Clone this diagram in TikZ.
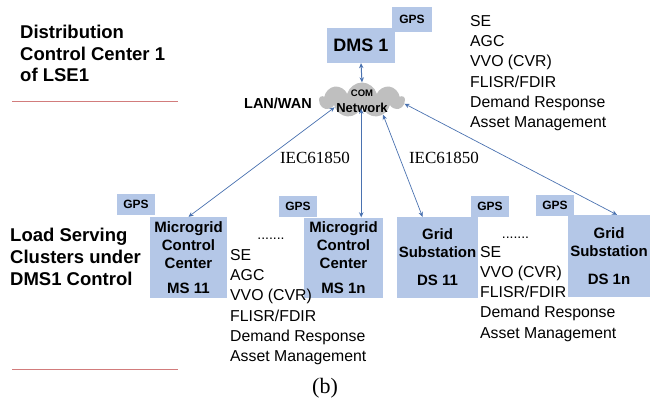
\documentclass[tikz,border=0pt]{standalone}
\usepackage{fontspec}
\setmainfont{Liberation Sans}
\newfontfamily\serifnum{Liberation Serif}
\usetikzlibrary{arrows.meta, shapes.symbols}
\definecolor{boxblue}{HTML}{B4C7E7}
\definecolor{cloudgray}{HTML}{BFBFBF}
\definecolor{linkblue}{HTML}{4A72B0}
\definecolor{rulered}{HTML}{D27C7C}
\newcommand{\fs}[2]{\fontsize{#1}{#2}\selectfont}

\begin{document}
\begin{tikzpicture}[x=1pt, y=-1pt,
    box/.style={fill=boxblue, inner sep=0, align=center, font=\bfseries\fs{15}{18}},
    gpsbox/.style={fill=boxblue, inner sep=0, minimum width=38pt, minimum height=21pt, font=\bfseries\fs{12}{14}},
    heading/.style={anchor=north west, inner sep=0, align=left, font=\bfseries\fs{18.5}{21.5}},
    funclist/.style={anchor=north west, inner sep=0, align=left, font=\fs{15.8}{20.3}},
    link/.style={draw=linkblue, line width=0.7pt, {Stealth[length=5pt,width=4.5pt]}-{Stealth[length=5pt,width=4.5pt]}}]
  \useasboundingbox (0,0) rectangle (651,402);

  % Headings and red separators
  \node[heading] (dcc) at (20,25) {Distribution\\Control Center 1\\of LSE1};
  \node[heading, font=\bfseries\fs{18.5}{22}] (lsc) at (10,228) {Load Serving\\Clusters under\\DMS1 Control};
  \draw[rulered, line width=1.3pt] (12,101.5) -- (178,101.5);
  \draw[rulered, line width=1.3pt] (12,369.5) -- (178,369.5);

  % DMS and communication network
  \node[box, font=\bfseries\fs{18}{20}, minimum width=68pt, minimum height=35pt] (dms) at (361,45.5) {DMS 1};
  \node[gpsbox, minimum width=40pt, minimum height=25pt] (gpsdms) at (412,19.5) {GPS};
  \node[cloud, cloud puffs=9, aspect=2.4, fill=cloudgray, inner sep=0,
        minimum width=85pt, minimum height=35pt] (com) at (362,100) {};
  \node[align=center, inner sep=0, font=\bfseries\fs{13}{16.5}] (comtext) at (362,101) {\fs{9.5}{11}COM\\Network};
  \node[anchor=east, inner sep=0, font=\bfseries\fs{14.5}{16}] (lanwan) at (312,103) {LAN/WAN};
  \node[funclist] (dmsfunc) at (470,15) {SE\\AGC\\VVO (CVR)\\FLISR/FDIR\\Demand Response\\Asset Management};

  % Load serving clusters
  \node[box, minimum width=77pt, minimum height=81pt] (ms11) at (188.5,257.5) {Microgrid\\Control\\Center\\[7pt]MS 11};
  \node[box, minimum width=79pt, minimum height=80pt] (ms1n) at (343.5,257.5) {Microgrid\\Control\\Center\\[7pt]MS 1n};
  \node[box, minimum width=81pt, minimum height=81pt] (ds11) at (437.5,257.5) {Grid\\Substation\\[10pt]DS 11};
  \node[box, minimum width=82pt, minimum height=82pt] (ds1n) at (609,256) {Grid\\Substation\\[10pt]DS 1n};
  \node[gpsbox] (gpsms11) at (136,204.5) {GPS};
  \node[gpsbox] (gpsms1n) at (298,206) {GPS};
  \node[gpsbox] (gpsds11) at (490,206) {GPS};
  \node[gpsbox] (gpsds1n) at (555,205.5) {GPS};
  \node[anchor=base, inner sep=0, font=\fs{14}{16}] (msdots) at (271,239) {.......};
  \node[anchor=base, inner sep=0, font=\fs{14}{16}] (dsdots) at (515.5,238) {.......};
  \node[funclist] (msfunc) at (230,249) {SE\\AGC\\VVO (CVR)\\FLISR/FDIR\\Demand Response\\Asset Management};
  \node[funclist, font=\fs{15.8}{20.25}] (dsfunc) at (480,246) {SE\\VVO (CVR)\\FLISR/FDIR\\Demand Response\\Asset Management};

  % Links
  \draw[link, line width=1pt] (dms.south) -- (com.north);
  \draw[link] (ms11.north) -- (com.195);
  \draw[link] (com.265 |- ms1n.north) -- (com.265);
  \draw[link] ([xshift=-15pt]ds11.north) -- (com.325);
  \draw[link] ([xshift=8pt]ds1n.north) -- (com.355);
  \node[font=\serifnum\fs{17}{19}, inner sep=0] (iec1) at (315,158) {IEC61850};
  \node[font=\serifnum\fs{17}{19}, inner sep=0] (iec2) at (444,158) {IEC61850};

  \node[font=\serifnum\fs{22}{24}, inner sep=0] (caption) at (325,388) {(b)};
\end{tikzpicture}
\end{document}
